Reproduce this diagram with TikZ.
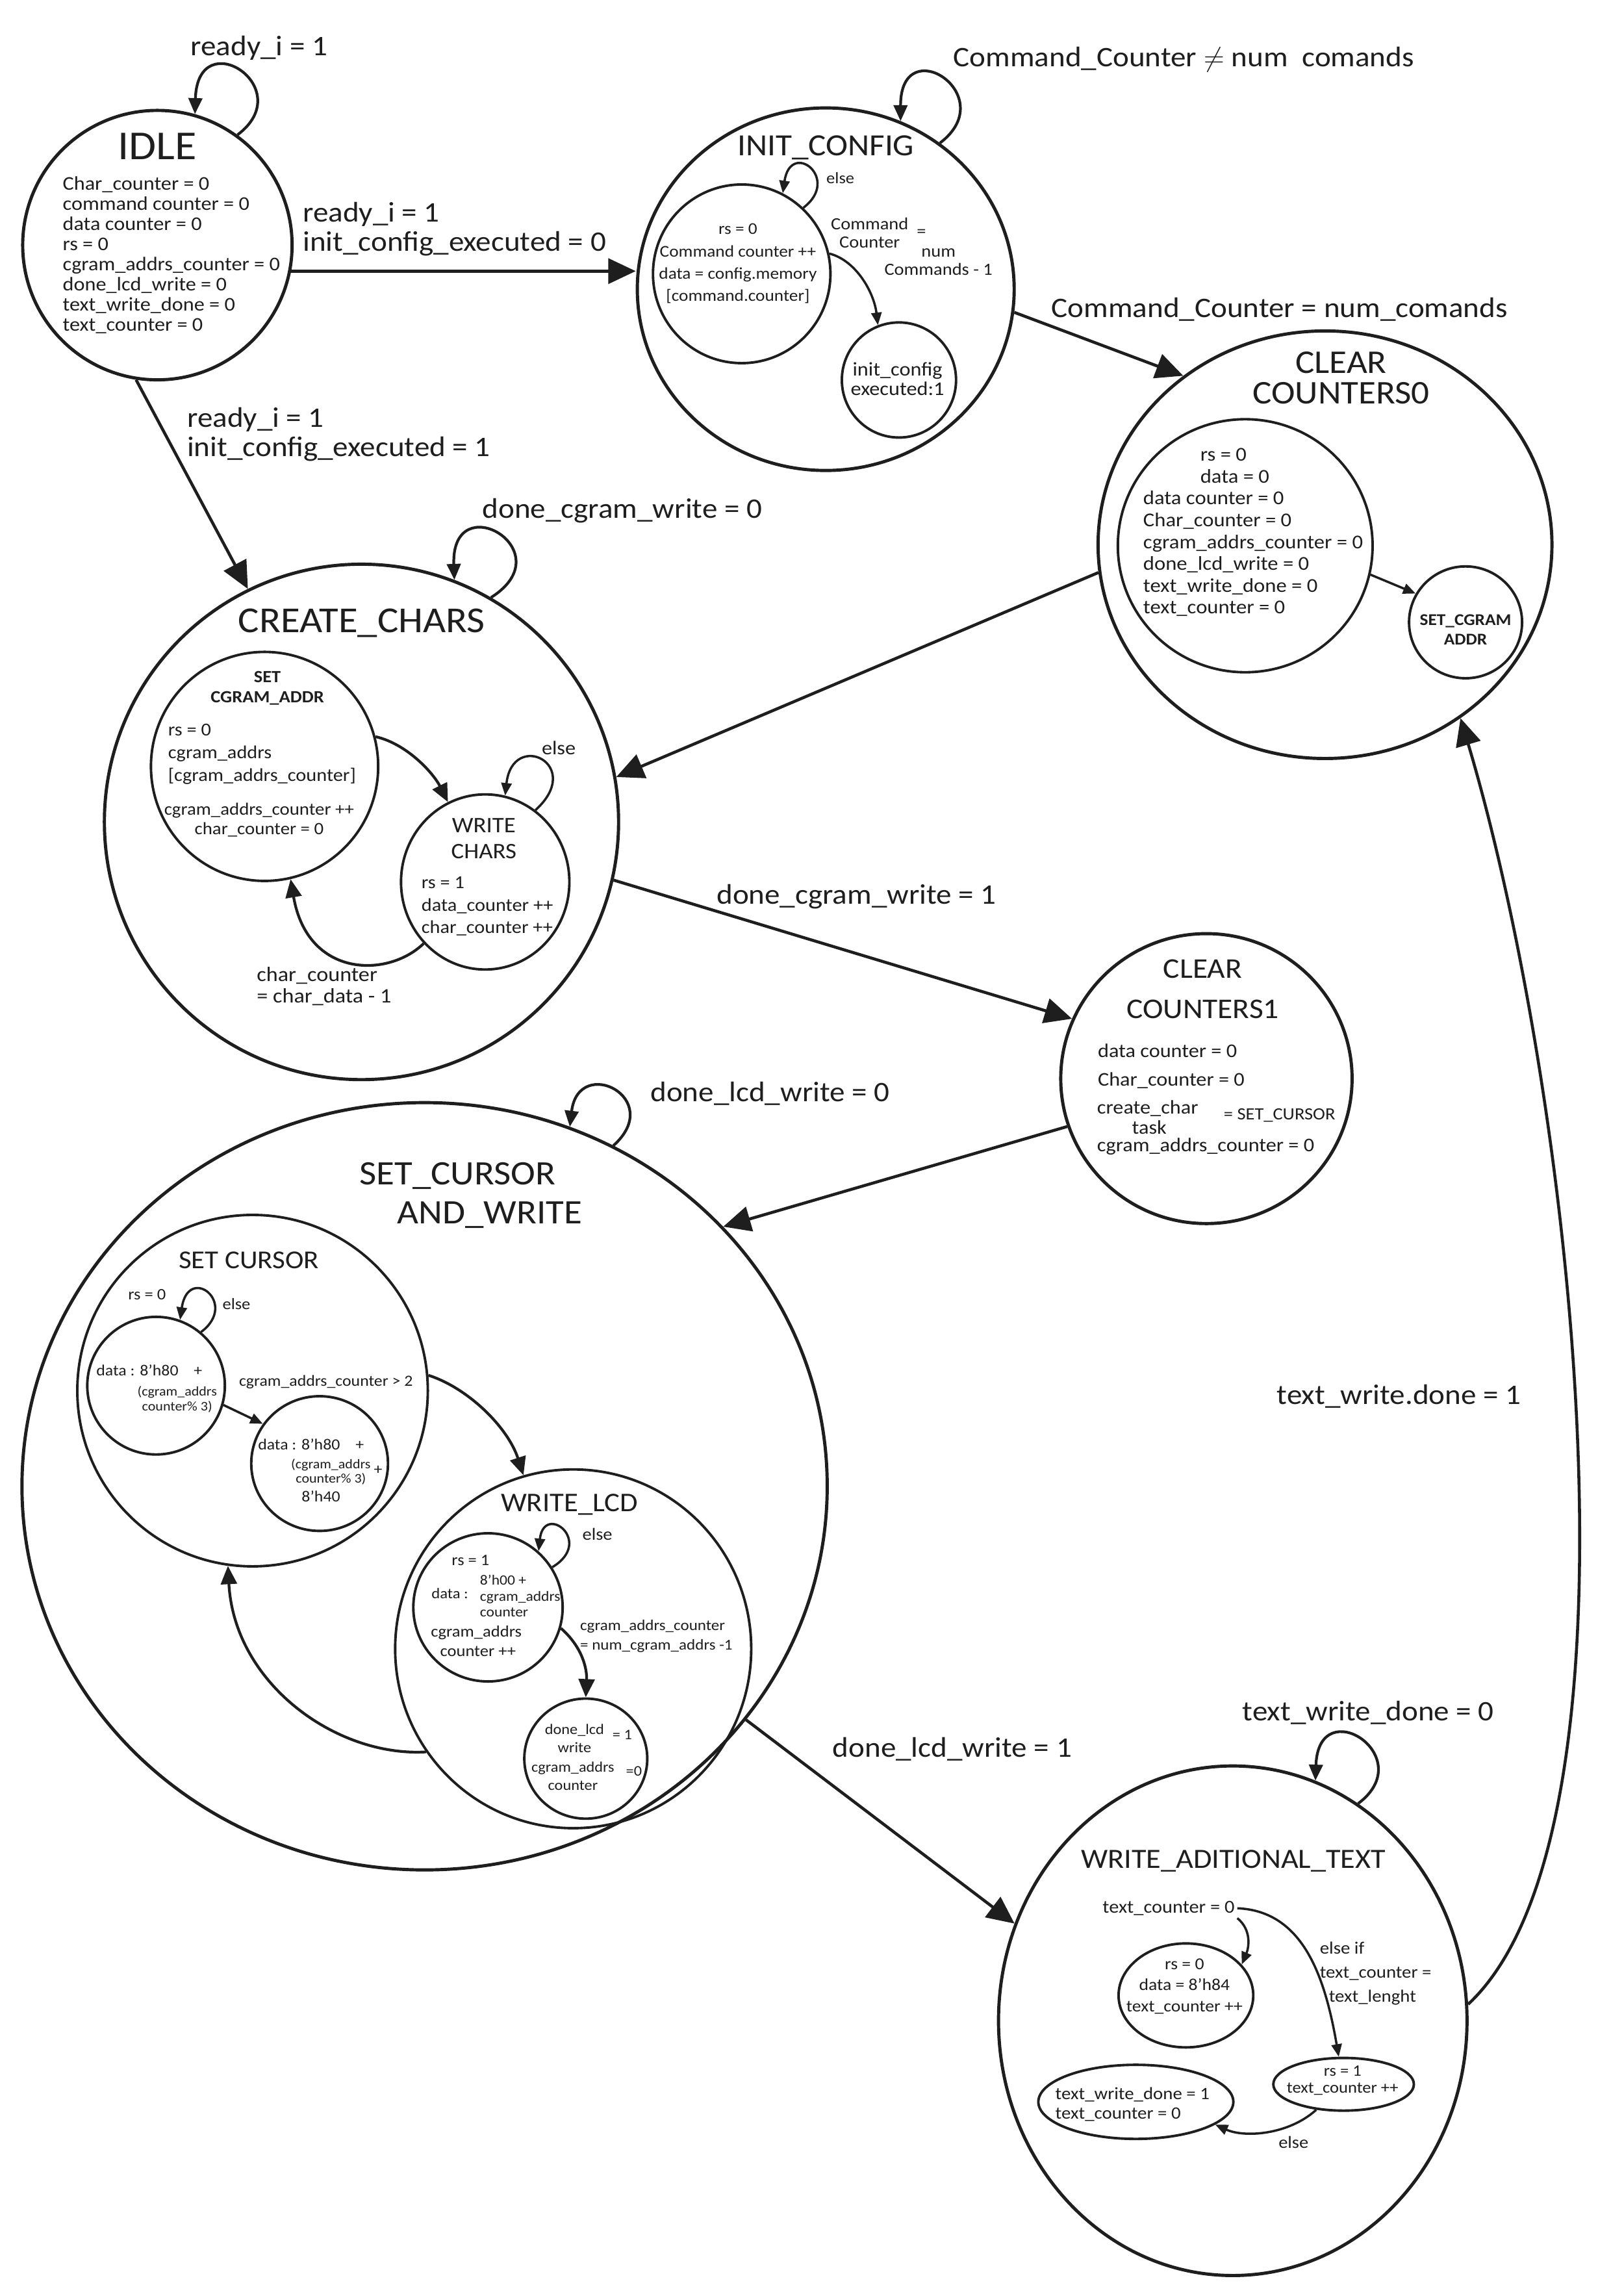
\documentclass[tikz,border=0pt]{standalone}
\usepackage{fontspec}
\setmainfont{Carlito}[FakeStretch=1.08]
\usetikzlibrary{shapes.geometric,arrows.meta}
\newlength\pxu
\setlength\pxu{0.022543cm}
\newcommand\fsz[2]{\fontsize{#1}{#2}\selectfont}
\definecolor{ink}{HTML}{1E1E1E}
\begin{document}
\begin{tikzpicture}[x=0.022543cm,y=-0.022543cm,color=ink,
  every node/.style={inner sep=1pt},
  mainst/.style={draw, ellipse, line width=1.4pt, inner sep=0pt},
  subst/.style={draw, ellipse, line width=1.1pt, inner sep=0pt},
  edgear/.style={line width=1.3pt, -{Triangle[length=12pt,width=11pt]}},
  looparr/.style={line width=1.2pt, -{Triangle[length=7pt,width=6pt]}},
  midar/.style={line width=1.2pt, -{Triangle[length=8pt,width=7pt]}},
  inar/.style={line width=1.0pt, -{Triangle[length=5.5pt,width=4.5pt]}},
  lbl/.style={font=\fsz{12.4}{12.8}}]
\fill[white] (0,0) rectangle (1109,1568);
\useasboundingbox (0,0) rectangle (1109,1568);

% ---------- states ----------
\node[mainst, minimum width=184\pxu, minimum height=184\pxu] (idle) at (107.5,167.4) {};
\node[mainst, minimum width=257.4\pxu, minimum height=247.6\pxu] (init) at (564,197.5) {};
\node[subst, minimum width=121.2\pxu, minimum height=122\pxu] (cfg) at (506.6,187) {};
\node[subst, minimum width=78\pxu, minimum height=78.6\pxu] (cfgdone) at (614,259.5) {};
\node[mainst, minimum width=310\pxu, minimum height=292\pxu] (clr0) at (905,372) {};
\node[subst, minimum width=174\pxu, minimum height=172.8\pxu] (clr0in) at (850.5,372.7) {};
\node[subst, minimum width=77.2\pxu, minimum height=76.4\pxu] (setcg) at (1001,425) {};
\node[mainst, minimum width=351.2\pxu, minimum height=352\pxu] (cc) at (246.9,561.3) {};
\node[subst, minimum width=155.2\pxu, minimum height=156.4\pxu] (scga) at (180.7,523.4) {};
\node[subst, minimum width=115\pxu, minimum height=119.6\pxu] (wc) at (331.4,602.3) {};
\node[mainst, minimum width=199\pxu, minimum height=198\pxu] (clr1) at (824,736.6) {};
\node[mainst, minimum width=550\pxu, minimum height=524\pxu] (scw) at (290,1015) {};
\node[subst, minimum width=239.4\pxu, minimum height=240\pxu] (sc) at (172.5,949.7) {};
\node[subst, minimum width=94\pxu, minimum height=94\pxu] (cA) at (106.6,946.3) {};
\node[subst, minimum width=93.4\pxu, minimum height=92\pxu] (cB) at (218.3,999.5) {};
\node[subst, minimum width=243.2\pxu, minimum height=245\pxu] (wl) at (391.5,1126) {};
\node[subst, minimum width=102\pxu, minimum height=101.2\pxu] (cC) at (333.3,1097.7) {};
\node[subst, minimum width=84\pxu, minimum height=82\pxu] (cD) at (400.1,1201) {};
\node[mainst, minimum width=320\pxu, minimum height=348\pxu] (wat) at (842,1380) {};
\node[subst, minimum width=92\pxu, minimum height=71\pxu] (cE) at (810,1362.7) {};
\node[subst, minimum width=96\pxu, minimum height=36\pxu] (cF) at (917.7,1423.4) {};
\node[subst, minimum width=133.2\pxu, minimum height=50.6\pxu] (cG) at (775.8,1435.4) {};

% ---------- titles ----------
\node[font=\fsz{18}{20}] (tIdle) at (107.5,99.8) {IDLE};
\node[font=\fsz{13.5}{15}] (tInit) at (564,101) {INIT\_CONFIG};
\node[font=\fsz{14.5}{13.5}, align=center] (tC0) at (916,258) {CLEAR\\COUNTERS0};
\node[font=\bfseries\fsz{7.2}{8.7}, align=center] (tScg) at (1001,430) {SET\_CGRAM\\ADDR};
\node[font=\fsz{16}{18}] (tCC) at (247,425.6) {CREATE\_CHARS};
\node[font=\bfseries\fsz{7.5}{8.6}, align=center] (tScga) at (182.6,470) {SET\\CGRAM\_ADDR};
\node[font=\fsz{9.7}{11.2}, align=center] (tWc) at (330.5,572.7) {WRITE\\CHARS};
\node[font=\fsz{12.5}{17.6}, align=center] (tC1) at (821.5,675.4) {CLEAR\\COUNTERS1};
\node[font=\fsz{15}{17}] (tScw1) at (312.6,803.2) {SET\_CURSOR};
\node[font=\fsz{15}{17}] (tScw2) at (334.6,829.9) {AND\_WRITE};
\node[font=\fsz{11.3}{13}] (tSc) at (170,860.6) {SET CURSOR};
\node[font=\fsz{11.8}{13}] (tWl) at (389,1027.5) {WRITE\_LCD};
\node[font=\fsz{12.2}{14}] (tWat) at (842.4,1270.7) {WRITE\_ADITIONAL\_TEXT};

% ---------- state bodies ----------
\node[font=\fsz{8.5}{8.8}, anchor=west, align=left] (bIdle) at (41,174.2)
  {Char\_counter = 0\\command counter = 0\\data counter = 0\\rs = 0\\cgram\_addrs\_counter = 0\\done\_lcd\_write = 0\\text\_write\_done = 0\\text\_counter = 0};
\node[font=\fsz{7.2}{9.75}, align=center] (bCfg) at (504,180)
  {rs = 0\\Command counter ++\\data = config.memory\\{[command.counter]}};
\node[font=\fsz{8.5}{8.5}, align=center] (bCfgd) at (613,258.8) {init\_config\\executed:1};
\node[font=\fsz{8.6}{9.55}, anchor=west, align=left] (bC0) at (779,363.6)
  {\hspace*{25pt}rs = 0\\\hspace*{25pt}data = 0\\data counter = 0\\Char\_counter = 0\\cgram\_addrs\_counter = 0\\done\_lcd\_write = 0\\text\_write\_done = 0\\text\_counter = 0};
\node[font=\fsz{8}{9.9}, anchor=west, align=left] (bScga1) at (113,515)
  {rs = 0\\cgram\_addrs\\{[cgram\_addrs\_counter]}};
\node[font=\fsz{7.6}{8.6}, align=center] (bScga2) at (177,560) {cgram\_addrs\_counter ++\\char\_counter = 0};
\node[font=\fsz{8}{9.8}, anchor=west, align=left] (bWc) at (286,619) {rs = 1\\data\_counter ++\\char\_counter ++};
\node[font=\fsz{8.5}{12.4}, anchor=west, align=left] (bC1a) at (748,728.2) {data counter = 0\\Char\_counter = 0};
\node[font=\fsz{8.5}{9}, anchor=west] (bC1b) at (747.5,757.1) {create\_char};
\node[font=\fsz{8.5}{9}] (bC1c) at (785,769.7) {task};
\node[font=\fsz{7.5}{9}, anchor=west] (bC1d) at (834,761.5) {= SET\_CURSOR};
\node[font=\fsz{8.5}{9}, anchor=west] (bC1e) at (747.5,783) {cgram\_addrs\_counter = 0};
\node[font=\fsz{7}{8}] (bSc) at (100.4,884) {rs = 0};
\node[font=\fsz{6.8}{8}] (bA1) at (102,935.8) {data : 8'h80\quad +};
\node[font=\fsz{5.8}{6.4}, align=center] (bA2) at (121,955.7) {(cgram\_addrs\\counter\% 3)};
\node[font=\fsz{6.8}{8}] (bB1) at (212.4,986.3) {data : 8'h80\quad +};
\node[font=\fsz{5.8}{6.4}, align=center] (bB2) at (226,1005.1) {(cgram\_addrs\\counter\% 3)};
\node[font=\fsz{6.8}{8}] (bB3) at (258.2,1004.2) {+};
\node[font=\fsz{6.8}{8}] (bB4) at (219.2,1022) {8'h40};
\node[font=\fsz{7}{8}] (bCl1) at (321.4,1065.8) {rs = 1};
\node[font=\fsz{6.2}{7}, anchor=west, align=left] (bCl2) at (326,1089.9) {8'h00 +\\cgram\_addrs\\counter};
\node[font=\fsz{6.5}{8}] (bCl3) at (307.3,1088) {data :};
\node[font=\fsz{7}{8.5}, anchor=west, align=left] (bCl4) at (292.5,1120.6) {cgram\_addrs\\\hspace*{4pt}counter ++};
\node[font=\fsz{6.4}{8}, align=center] (bD1) at (392.4,1187.2) {done\_lcd\\write};
\node[font=\fsz{6.4}{8}] (bD2) at (425,1184.8) {= 1};
\node[font=\fsz{6.4}{8}, align=center] (bD3) at (391.3,1212.8) {cgram\_addrs\\counter};
\node[font=\fsz{6.4}{8}] (bD4) at (433,1209.7) {=0};
\node[font=\fsz{8}{9}] (tc) at (798.2,1303.2) {text\_counter = 0};
\node[font=\fsz{7.3}{9.3}, align=center] (bE) at (809,1356.5) {rs = 0\\data = 8'h84\\text\_counter ++};
\node[font=\fsz{7}{7.4}, align=center] (bF) at (917,1420.7) {rs = 1\\text\_counter ++};
\node[font=\fsz{7.6}{8.5}, anchor=west, align=left] (bG) at (719,1437.2) {text\_write\_done = 1\\text\_counter = 0};

% ---------- inner labels ----------
\node[font=\fsz{7}{8}] (eCfg) at (574,121.4) {else};
\node[font=\fsz{7.5}{8}, align=center] (lCfg1) at (594,159) {Command\\Counter};
\node[font=\fsz{7.5}{8}] (lCfg2) at (629.4,159) {=};
\node[font=\fsz{7.5}{8}, align=center] (lCfg3) at (641,179) {num\\Commands - 1};
\node[font=\fsz{8.5}{9}] (eWc) at (381.6,510.8) {else};
\node[font=\fsz{9}{9.4}, anchor=west, align=left] (lWc) at (173.6,673.5) {char\_counter\\= char\_data - 1};
\node[font=\fsz{7}{8}] (eA) at (161.5,890.3) {else};
\node[font=\fsz{6.8}{8}] (lSc) at (222.6,943.8) {cgram\_addrs\_counter > 2};
\node[font=\fsz{7.5}{8}] (eC) at (408,1047.6) {else};
\node[font=\fsz{6.6}{8.5}, anchor=west, align=left] (lC) at (394.4,1117.5) {cgram\_addrs\_counter\\= num\_cgram\_addrs -1};
\node[font=\fsz{7.6}{10.4}, anchor=west, align=left] (lE) at (899.6,1347.7) {else if\\text\_counter =\\\hspace*{4pt}text\_lenght};
\node[font=\fsz{7.5}{8}] (eF) at (883.5,1463) {else};

% ---------- edge labels ----------
\node[lbl] (l1) at (177,32.6) {ready\_i = 1};
\node[lbl, anchor=west, align=left] (l2) at (205,156.4) {ready\_i = 1\\init\_config\_executed = 0};
\node[lbl, anchor=west, align=left] (l3) at (126,296.8) {ready\_i = 1\\init\_config\_executed = 1};
\node[lbl] (l4) at (808.5,40.8) {Command\_Counter $\neq$ num\enspace comands};
\node[lbl] (l5) at (874,211.4) {Command\_Counter = num\_comands};
\node[lbl] (l6) at (425,349) {done\_cgram\_write = 0};
\node[lbl] (l7) at (585,612.3) {done\_cgram\_write = 1};
\node[lbl] (l8) at (526,747) {done\_lcd\_write = 0};
\node[lbl] (l9) at (650.4,1194.7) {done\_lcd\_write = 1};
\node[lbl] (l10) at (934.5,1169.7) {text\_write\_done = 0};
\node[lbl] (l11) at (955.5,953.5) {text\_write.done = 1};

% ---------- main transitions ----------
\draw[edgear] (idle.-11) -- (idle.-11 -| init.west);
\draw[edgear] (idle.-99) -- (cc.116);
\draw[edgear] (init.-7) -- (clr0.130);
\draw[edgear] (clr0.187) -- (cc.10);
\draw[edgear] (cc.-13) -- (clr1.156);
\draw[edgear] (clr1.199) -- (scw.41);
\draw[edgear] (scw.-36) -- (wat.156);
\draw[edgear] (wat.4) .. controls (1130,1250) and (1075,750) .. (clr0.-52);

% ---------- self loops ----------
\draw[looparr] (idle.54) .. controls (205,60) and (135,15) .. (idle.74);
\draw[looparr] (init.52) .. controls (685,65) and (615,20) .. (init.66);
\draw[looparr] (cc.60) .. controls (386,376) and (308,331) .. (cc.69);
\draw[looparr] (scw.61) .. controls (455,750) and (395,720) .. (scw.68);
\draw[looparr] (wat.60) .. controls (970.5,1199.6) and (900.5,1154.6) .. (wat.71);

% ---------- inner transitions ----------
\draw[inar] (cfg.47) .. controls (575,122) and (540,95) .. (cfg.63);
\draw[inar] (wc.55) .. controls (400,522) and (350,498) .. (wc.77);
\draw[inar] (cA.50) .. controls (163.6,889.9) and (128.6,862.9) .. (cA.70);
\draw[inar] (cC.32) .. controls (406.5,1052.7) and (371.5,1025.7) .. (cC.48);
\draw[inar] (cfg.13) .. controls (585,178) and (597,200) .. (cfgdone.111);
\draw[inar] (clr0in.-13) -- (setcg.150);
\draw[midar] (scga.15) .. controls (278,508) and (296,528) .. (wc.115);
\draw[midar] (wc.225) .. controls (265,668) and (210,668) .. (scga.-77);
\draw[inar] (cA.-16) -- (cB.145);
\draw[midar] (sc.5) .. controls (320,948) and (347,975) .. (wl.106);
\draw[midar] (wl.215) .. controls (230,1200) and (160,1150) .. (sc.-98);
\draw[midar] (cC.-16) .. controls (398,1125) and (401,1140) .. (cD.90);
\draw[inar] (tc.south east) .. controls (855,1318) and (853,1330) .. (cE.29);
\draw[inar] (tc.east) .. controls (890,1305) and (905,1350) .. (cF.100);
\draw[inar] (cF.-137) .. controls (880,1458) and (850,1460) .. (cG.-16);
\end{tikzpicture}
\end{document}
